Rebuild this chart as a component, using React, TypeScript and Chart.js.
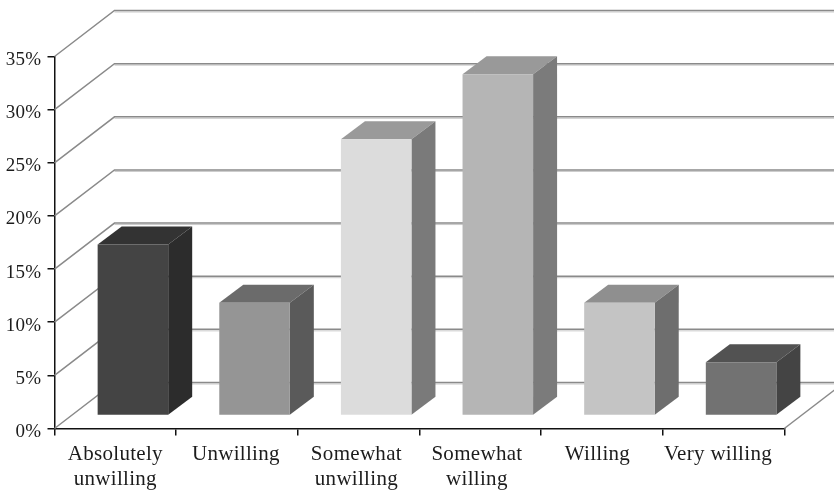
import React, { useEffect, useRef } from "react";
import { Chart, registerables } from "chart.js";

Chart.register(...registerables);

const categories = [
  ["Absolutely", "unwilling"],
  "Unwilling",
  ["Somewhat", "unwilling"],
  ["Somewhat", "willing"],
  "Willing",
  "Very willing",
];
const values = [16.1, 10.6, 26.0, 32.1, 10.6, 5.0];
const frontColors = ["#444444", "#959595", "#dcdcdc", "#b5b5b5", "#c4c4c4", "#727272"];
const sideColors = ["#2c2c2c", "#5a5a5a", "#7a7a7a", "#7b7b7b", "#6e6e6e", "#444444"];
const topColors = ["#333333", "#6b6b6b", "#9a9a9a", "#999999", "#8f8f8f", "#525252"];

const FONT = "'Liberation Serif', serif";
const TEXT = "#1c1c1c";
const GRID = "#8a8a8a";
const WALL_DX = 60;
const WALL_DY = 46;
const BAR_DX = 17.6;
const BAR_DY = 13;
const DEPTH_DX = 24;
const DEPTH_DY = 18;
const X_LABEL_DRIFT = -1.1;
const Y_LABEL_DROP = 3.5;

const threeD = {
  id: "threeD",
  beforeDraw(chart: any) {
    chart.ctx.letterSpacing = "0.3px";
    const { x, y } = chart.scales;
    if (!chart.$labelsShifted) {
      x.getLabelItems(chart.chartArea).forEach((item: any, i: number) => {
        item.options.translation[0] += i * X_LABEL_DRIFT;
      });
      y.getLabelItems(chart.chartArea).forEach((item: any) => {
        item.options.translation[1] += Y_LABEL_DROP;
      });
      chart.$labelsShifted = true;
    }
  },
  beforeDatasetsDraw(chart: any) {
    const { ctx, scales, width } = chart;
    const y = scales.y;
    const left = chart.chartArea.left;
    const right = chart.chartArea.right;
    ctx.save();
    ctx.letterSpacing = "0px";
    ctx.lineCap = "butt";
    for (const tick of y.ticks) {
      const py = y.getPixelForValue(tick.value);
      const by = py - WALL_DY;
      const bx = left + WALL_DX;
      ctx.strokeStyle = "#c9c9c9";
      ctx.lineWidth = 1;
      ctx.beginPath();
      ctx.moveTo(bx, by + 1.5);
      ctx.lineTo(width, by + 1.5);
      ctx.stroke();
      ctx.strokeStyle = GRID;
      ctx.lineWidth = 1.5;
      ctx.beginPath();
      ctx.moveTo(left, py);
      ctx.lineTo(bx, by);
      ctx.lineTo(width, by);
      ctx.stroke();
    }
    // right edge of the floor
    const y0 = y.getPixelForValue(0);
    ctx.beginPath();
    ctx.moveTo(right, y0);
    ctx.lineTo(right + WALL_DX, y0 - WALL_DY);
    ctx.stroke();

    // bar depth faces
    const meta = chart.getDatasetMeta(0);
    ctx.translate(BAR_DX, -BAR_DY);
    meta.data.forEach((bar: any, i: number) => {
      const l = bar.x - bar.width / 2;
      const r = bar.x + bar.width / 2;
      ctx.fillStyle = topColors[i];
      ctx.beginPath();
      ctx.moveTo(l, bar.y);
      ctx.lineTo(l + DEPTH_DX, bar.y - DEPTH_DY);
      ctx.lineTo(r + DEPTH_DX, bar.y - DEPTH_DY);
      ctx.lineTo(r, bar.y);
      ctx.closePath();
      ctx.fill();
      ctx.fillStyle = sideColors[i];
      ctx.beginPath();
      ctx.moveTo(r, bar.y);
      ctx.lineTo(r + DEPTH_DX, bar.y - DEPTH_DY);
      ctx.lineTo(r + DEPTH_DX, bar.base - DEPTH_DY);
      ctx.lineTo(r, bar.base);
      ctx.closePath();
      ctx.fill();
    });
    ctx.restore();
    ctx.save();
    ctx.translate(BAR_DX, -BAR_DY);
  },
  afterDatasetsDraw(chart: any) {
    chart.ctx.restore();
  },
};

export default function App() {
  const ref = useRef<HTMLCanvasElement>(null);
  useEffect(() => {
    const chart = new Chart(ref.current as HTMLCanvasElement, {
      type: "bar",
      data: {
        labels: categories as any,
        datasets: [
          {
            data: values,
            backgroundColor: frontColors,
            barPercentage: 0.58,
            categoryPercentage: 1,
          },
        ],
      },
      options: {
        animation: false,
        responsive: false,
        layout: { padding: { top: 56.5, right: 49.7, left: 0, bottom: 0 } },
        plugins: { legend: { display: false }, tooltip: { enabled: false }, title: { display: false } },
        scales: {
          x: {
            grid: { drawOnChartArea: false, color: "#111", tickLength: 7, lineWidth: 1.5 },
            border: { color: "#111", width: 1.5 },
            afterFit(s: any) {
              s.height = 65.5;
            },
            ticks: {
              autoSkip: false,
              maxRotation: 0,
              minRotation: 0,
              padding: 6,
              color: TEXT,
              font: { family: FONT, size: 21, lineHeight: 1.2 },
            },
          },
          y: {
            min: 0,
            max: 35,
            afterFit(s: any) {
              s.width = 54.5;
            },
            grid: { drawOnChartArea: false, color: "#111", tickLength: 7, lineWidth: 1.5 },
            border: { color: "#111", width: 1.5 },
            ticks: {
              stepSize: 5,
              padding: 6,
              color: TEXT,
              font: { family: FONT, size: 19 },
              callback: (v: any) => v + "%",
            },
          },
        },
      },
      plugins: [threeD],
    } as any);
    return () => chart.destroy();
  }, []);
  return (
    <div style={{ position: "absolute", left: 0, top: 0, width: 834, height: 494 }}>
      <canvas ref={ref} width={834} height={494} style={{ display: "block" }} />
    </div>
  );
}
